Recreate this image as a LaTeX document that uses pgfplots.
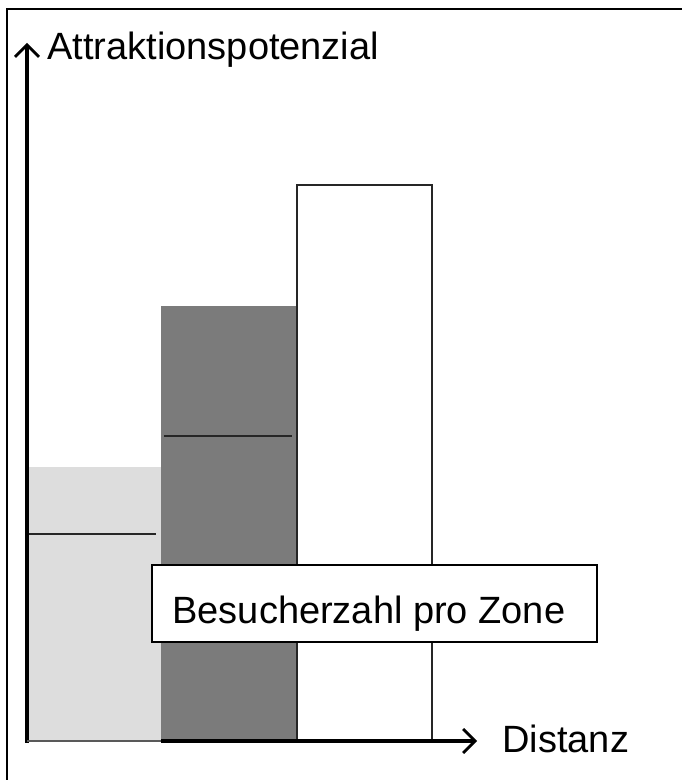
\documentclass[border=0pt]{standalone}
\usepackage{pgfplots}
\pgfplotsset{compat=1.18}
\usetikzlibrary{arrows.meta}
\usepackage{fontspec}
\setmainfont{Liberation Sans}
\definecolor{lightbar}{HTML}{DDDDDD}
\definecolor{darkbar}{HTML}{7B7B7B}
\begin{document}
\begin{tikzpicture}
\begin{axis}[
  width=341pt, height=390pt, scale only axis,
  xmin=0, xmax=682, ymin=-39, ymax=741,
  hide axis, clip=false,
]
% bars (zone attraction potential)
\addplot[ybar interval, fill=lightbar, draw=none] coordinates {(27,274) (161,274)};
\addplot[ybar interval, fill=darkbar, draw=none] coordinates {(161,435) (297,435)};
\addplot[ybar interval, fill=white, draw=black!85, line width=1.1pt] coordinates {(297,556) (432,556)};
% visitor levels within zones
\addplot[black!85, line width=1.2pt] coordinates {(29,207) (156,207)};
\addplot[black!85, line width=1.2pt] coordinates {(164,305) (292,305)};
% axes
\draw[line width=1.7pt, -{Straight Barb[length=6pt,width=12pt,line width=1.4pt]}] (axis cs:27,-2) -- (axis cs:27,698);
\draw[line width=1.1pt, black!65] (axis cs:27,0) -- (axis cs:161,0);
\draw[line width=1.7pt, -{Straight Barb[length=6pt,width=12pt,line width=1.4pt]}] (axis cs:161,0) -- (axis cs:477,0);
\node[anchor=base west, inner sep=0pt, font=\fontsize{19}{22}\selectfont] at (axis cs:47,681) {Attraktionspotenzial};
\node[anchor=base west, inner sep=0pt, font=\fontsize{19}{22}\selectfont] at (axis cs:502,-12) {Distanz};
% label box
\draw[fill=white, line width=0.8pt] (axis cs:152,99) rectangle (axis cs:597,176);
\node[anchor=base west, inner sep=0pt, font=\fontsize{19}{22}\selectfont] at (axis cs:172,117) {Besucherzahl pro Zone};
% outer frame
\draw[line width=1pt] (axis cs:7,-39) -- (axis cs:7,732) -- (axis cs:682,732);
\coordinate (ll) at (axis cs:0,-39);
\coordinate (ur) at (axis cs:682,741);
\end{axis}
\pgfresetboundingbox
\useasboundingbox (ll) rectangle (ur);
\end{tikzpicture}
\end{document}
